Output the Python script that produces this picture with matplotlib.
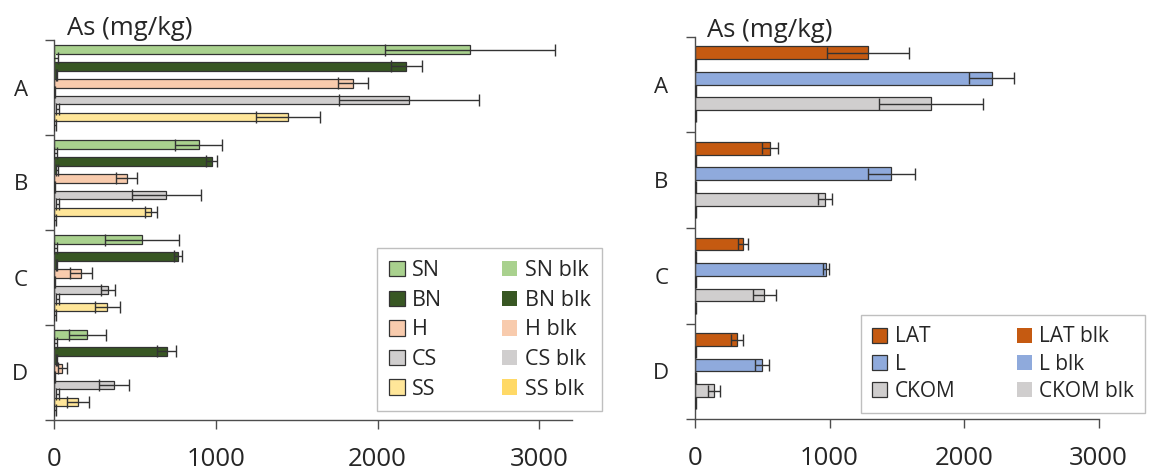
import matplotlib
matplotlib.use("Agg")
import matplotlib.pyplot as plt
import numpy as np

plt.rcParams['font.family'] = ['Open Sans', 'DejaVu Sans']

groups = ["A", "B", "C", "D"]

# left panel: sites SN, BN, H, CS, SS (means and SD per group A-D)
left_names = ["SN", "BN", "H", "CS", "SS"]
left_colors = ["#A9D18E", "#385723", "#F8CBAD", "#D0CECE", "#FFE699"]
left_blk_colors = ["#A9D18E", "#385723", "#F8CBAD", "#D0CECE", "#FFD966"]
sn = [2570, 892, 542, 205]
sn_sd = [526, 147, 230, 114]
bn = [2178, 973, 765, 695]
bn_sd = [98, 32, 27, 60]
h = [1848, 447, 166, 48]
h_sd = [92, 65, 66, 28]
cs = [2194, 693, 331, 368]
cs_sd = [432, 212, 45, 92]
ss = [1446, 597, 327, 146]
ss_sd = [199, 36, 77, 69]
sn_blk = [8, 6, 6, 6]
sn_blk_sd = [14, 10, 10, 10]
bn_blk = [14, 16, 14, 12]
bn_blk_sd = [4, 4, 4, 4]
h_blk = [4, 4, 4, 4]
h_blk_sd = [3, 3, 3, 3]
cs_blk = [18, 18, 18, 18]
cs_blk_sd = [8, 8, 8, 8]
ss_blk = [5, 5, 5, 5]
ss_blk_sd = [6, 6, 6, 6]

# right panel: LAT, L, CKOM
right_names = ["LAT", "L", "CKOM"]
right_colors = ["#C55A11", "#8FAADC", "#D0CECE"]
lat = [1287, 560, 360, 315]
lat_sd = [305, 60, 37, 44]
l_ = [2205, 1460, 973, 500]
l_sd = [168, 178, 25, 51]
ckom = [1752, 968, 515, 141]
ckom_sd = [386, 53, 86, 42]
lat_blk = [2, 2, 2, 2]
lat_blk_sd = [2, 2, 2, 2]
l_blk = [6, 6, 6, 6]
l_blk_sd = [4, 4, 4, 4]
ckom_blk = [6, 6, 6, 6]
ckom_blk_sd = [4, 4, 4, 4]

TXT = "#262626"
AXC = "#4d4d4d"
EDGE = "#333333"


def draw_panel(ax, names, series, blanks, colors, blk_colors, gap, capsize, xmax):
    n_bars = 2 * len(series)
    bh = 1.0 / (n_bars + gap)
    gidx = np.arange(len(groups))
    handles, blk_handles = [], []
    for j, ((m, sd), (bm, bsd)) in enumerate(zip(series, blanks)):
        y_s = gidx + (gap / 2 + 2 * j + 0.5) * bh
        y_b = gidx + (gap / 2 + 2 * j + 1.5) * bh
        hs = ax.barh(y_s, m, height=bh, color=colors[j], edgecolor=EDGE,
                     linewidth=0.9, label=names[j], zorder=2)
        hb = ax.barh(y_b, bm, height=bh, color=blk_colors[j], edgecolor='none',
                     label=names[j] + " blk", zorder=2)
        for yy, mm, ee in ((y_s, m, sd), (y_b, bm, bsd)):
            ax.errorbar(mm, yy, xerr=ee, fmt='none', ecolor=EDGE, elinewidth=1.0,
                        capsize=capsize, capthick=1.0, zorder=3)
        handles.append(hs)
        blk_handles.append(hb)

    ax.set_ylim(len(groups), 0)
    ax.set_xlim(0, xmax)
    for s in ("top", "right"):
        ax.spines[s].set_visible(False)
    for s in ("left", "bottom"):
        ax.spines[s].set_color(AXC)
        ax.spines[s].set_linewidth(1.0)

    ax.set_yticks(np.arange(len(groups) + 1))
    ax.set_yticklabels([])
    ax.set_yticks(gidx + 0.5, minor=True)
    ax.set_yticklabels(groups, minor=True, fontsize=16, color=TXT)
    ax.tick_params(axis='y', which='major', length=6.2, width=1.0, color=AXC, direction='out')
    ax.tick_params(axis='y', which='minor', length=0, pad=19)

    ax.set_xticks([0, 1000, 2000, 3000])
    ax.tick_params(axis='x', length=6.2, width=1.0, color=AXC, direction='out',
                   labelsize=18.5, labelcolor=TXT, pad=13)
    return handles + blk_handles


W, H = 1154, 470
fig = plt.figure(figsize=(W / 100, H / 100), dpi=100)

ax1 = fig.add_axes([54.3 / W, 50 / H, 517.4 / W, 380 / H])
ax2 = fig.add_axes([695 / W, 50.7 / H, 403.7 / W, 382.6 / H])

left_series = [(sn, sn_sd), (bn, bn_sd), (h, h_sd), (cs, cs_sd), (ss, ss_sd)]
left_blanks = [(sn_blk, sn_blk_sd), (bn_blk, bn_blk_sd), (h_blk, h_blk_sd),
               (cs_blk, cs_blk_sd), (ss_blk, ss_blk_sd)]
hl = draw_panel(ax1, left_names, left_series, left_blanks, left_colors,
                left_blk_colors, 1.3, 4.2, 3200)

right_series = [(lat, lat_sd), (l_, l_sd), (ckom, ckom_sd)]
right_blanks = [(lat_blk, lat_blk_sd), (l_blk, l_blk_sd), (ckom_blk, ckom_blk_sd)]
hr = draw_panel(ax2, right_names, right_series, right_blanks, right_colors,
                right_colors, 1.5, 4.6, 3000)

fig.text(66.7 / W, 1 - 35 / H, "As (mg/kg)", fontsize=18.5, color=TXT, va='baseline')
fig.text(706.7 / W, 1 - 36.7 / H, "As (mg/kg)", fontsize=18.5, color=TXT, va='baseline')

leg_kw = dict(ncol=2, loc='upper left', bbox_transform=fig.transFigure,
              borderaxespad=0, fancybox=False, edgecolor='#bfbfbf', framealpha=1,
              handlelength=0.72, handleheight=0.72, handletextpad=0.35,
              borderpad=0.55)
lg1 = ax1.legend(handles=hl, bbox_to_anchor=(377.3 / W, 1 - 248.3 / H),
                 fontsize=15.5, labelspacing=0.4, columnspacing=2.75, **leg_kw)
lg2 = ax2.legend(handles=hr, bbox_to_anchor=(861 / W, 1 - 315 / H),
                 fontsize=15, labelspacing=0.3, columnspacing=2.95, **leg_kw)
for lg in (lg1, lg2):
    lg.get_frame().set_linewidth(1.0)
    for t in lg.get_texts():
        t.set_color(TXT)

fig.savefig("out.png", dpi=100)
